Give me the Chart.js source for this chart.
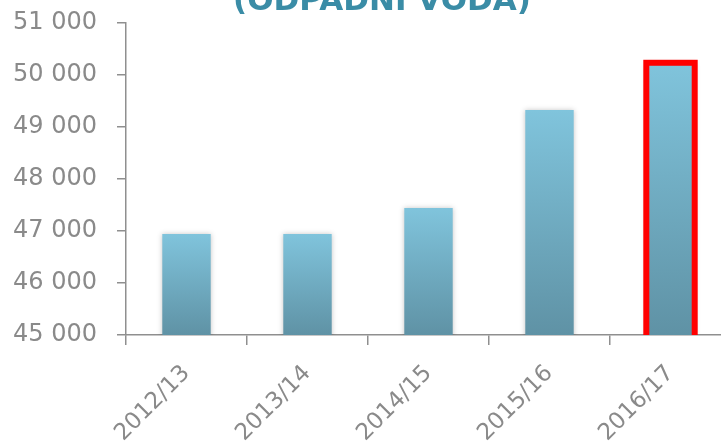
<!DOCTYPE html>
<html>
<head>
<meta charset="utf-8">
<script src="https://cdn.jsdelivr.net/npm/chart.js@4/dist/chart.umd.min.js"></script>
<style>
  html, body { margin: 0; padding: 0; background: #fff; overflow: hidden; }
  #wrap { position: relative; width: 731px; height: 445px; }
  #title {
    position: absolute; left: 382px; top: -16px; transform: translateX(-50%);
    font: bold 31px "DejaVu Sans", sans-serif; line-height: 31px;
    color: #3a8ca6; white-space: nowrap;
  }
</style>
</head>
<body>
<div id="wrap">
  <canvas id="chart" width="731" height="445"></canvas>
  <div id="title">(ODPADNÍ VODA)</div>
</div>
<script>
  // data
  const years = ["2012/13", "2013/14", "2014/15", "2015/16", "2016/17"];
  const values = [46940, 46940, 47440, 49325, 50235];
  const highlighted = [false, false, false, false, true];
  const yMin = 45000, yMax = 51000, yStep = 1000;

  const grey = "#8f8f8f";

  function fmt(v) {
    return String(v).replace(/\B(?=(\d{3})+(?!\d))/g, " ");
  }

  // per bar gradient, light on top, darker at the base
  function barFill(ctx) {
    const chart = ctx.chart;
    if (!chart.chartArea) return "#74b3c9";
    const y = chart.scales.y;
    const top = y.getPixelForValue(ctx.raw);
    const bottom = y.getPixelForValue(yMin);
    const g = chart.ctx.createLinearGradient(0, top, 0, bottom);
    g.addColorStop(0, "#80c4dc");
    g.addColorStop(1, "#5f92a5");
    return g;
  }

  const shadowAndFrame = {
    id: "shadowAndFrame",
    beforeDatasetsDraw(chart) {
      const c = chart.ctx;
      c.save();
      c.shadowColor = "rgba(0,0,0,0.22)";
      c.shadowBlur = 5;
    },
    afterDatasetsDraw(chart) {
      const c = chart.ctx;
      c.restore();
      const meta = chart.getDatasetMeta(0);
      c.save();
      c.beginPath();
      c.rect(0, 0, chart.width, chart.chartArea.bottom);
      c.clip();
      c.strokeStyle = "#ff0000";
      c.lineWidth = 6;
      meta.data.forEach(function (bar, i) {
        if (!highlighted[i]) return;
        const left = bar.x - bar.width / 2;
        c.strokeRect(left, bar.y, bar.width, bar.base - bar.y - 3);
      });
      c.restore();
    }
  };

  new Chart(document.getElementById("chart"), {
    type: "bar",
    data: {
      labels: years,
      datasets: [{
        data: values,
        backgroundColor: barFill,
        borderWidth: 0,
        categoryPercentage: 1,
        barPercentage: 0.4
      }]
    },
    options: {
      responsive: false,
      animation: false,
      layout: { padding: { top: 23, right: 0, left: 0, bottom: 0 } },
      plugins: {
        legend: { display: false },
        tooltip: { enabled: false }
      },
      scales: {
        x: {
          grid: {
            offset: true,
            drawOnChartArea: false,
            drawTicks: true,
            tickLength: 10,
            color: grey,
            lineWidth: 1.5
          },
          border: { color: grey, width: 1.5 },
          ticks: {
            color: "#8a8a8a",
            font: { family: "DejaVu Sans", size: 23 },
            minRotation: 45,
            maxRotation: 45,
            padding: 15
          },
          afterFit(scale) {
            scale.height = 110;
            scale.paddingLeft = 0;
            scale.paddingRight = 0;
          }
        },
        y: {
          min: yMin,
          max: yMax,
          grid: {
            drawOnChartArea: false,
            drawTicks: true,
            tickLength: 9,
            color: grey,
            lineWidth: 1.5
          },
          border: { color: grey, width: 1.5 },
          ticks: {
            stepSize: yStep,
            color: "#8a8a8a",
            font: { family: "DejaVu Sans", size: 24 },
            padding: 20,
            callback: function (v) { return fmt(v); }
          },
          afterFit(scale) {
            scale.width = 126;
            scale.paddingTop = 0;
            scale.paddingBottom = 0;
          }
        }
      }
    },
    plugins: [shadowAndFrame]
  });
</script>
</body>
</html>
